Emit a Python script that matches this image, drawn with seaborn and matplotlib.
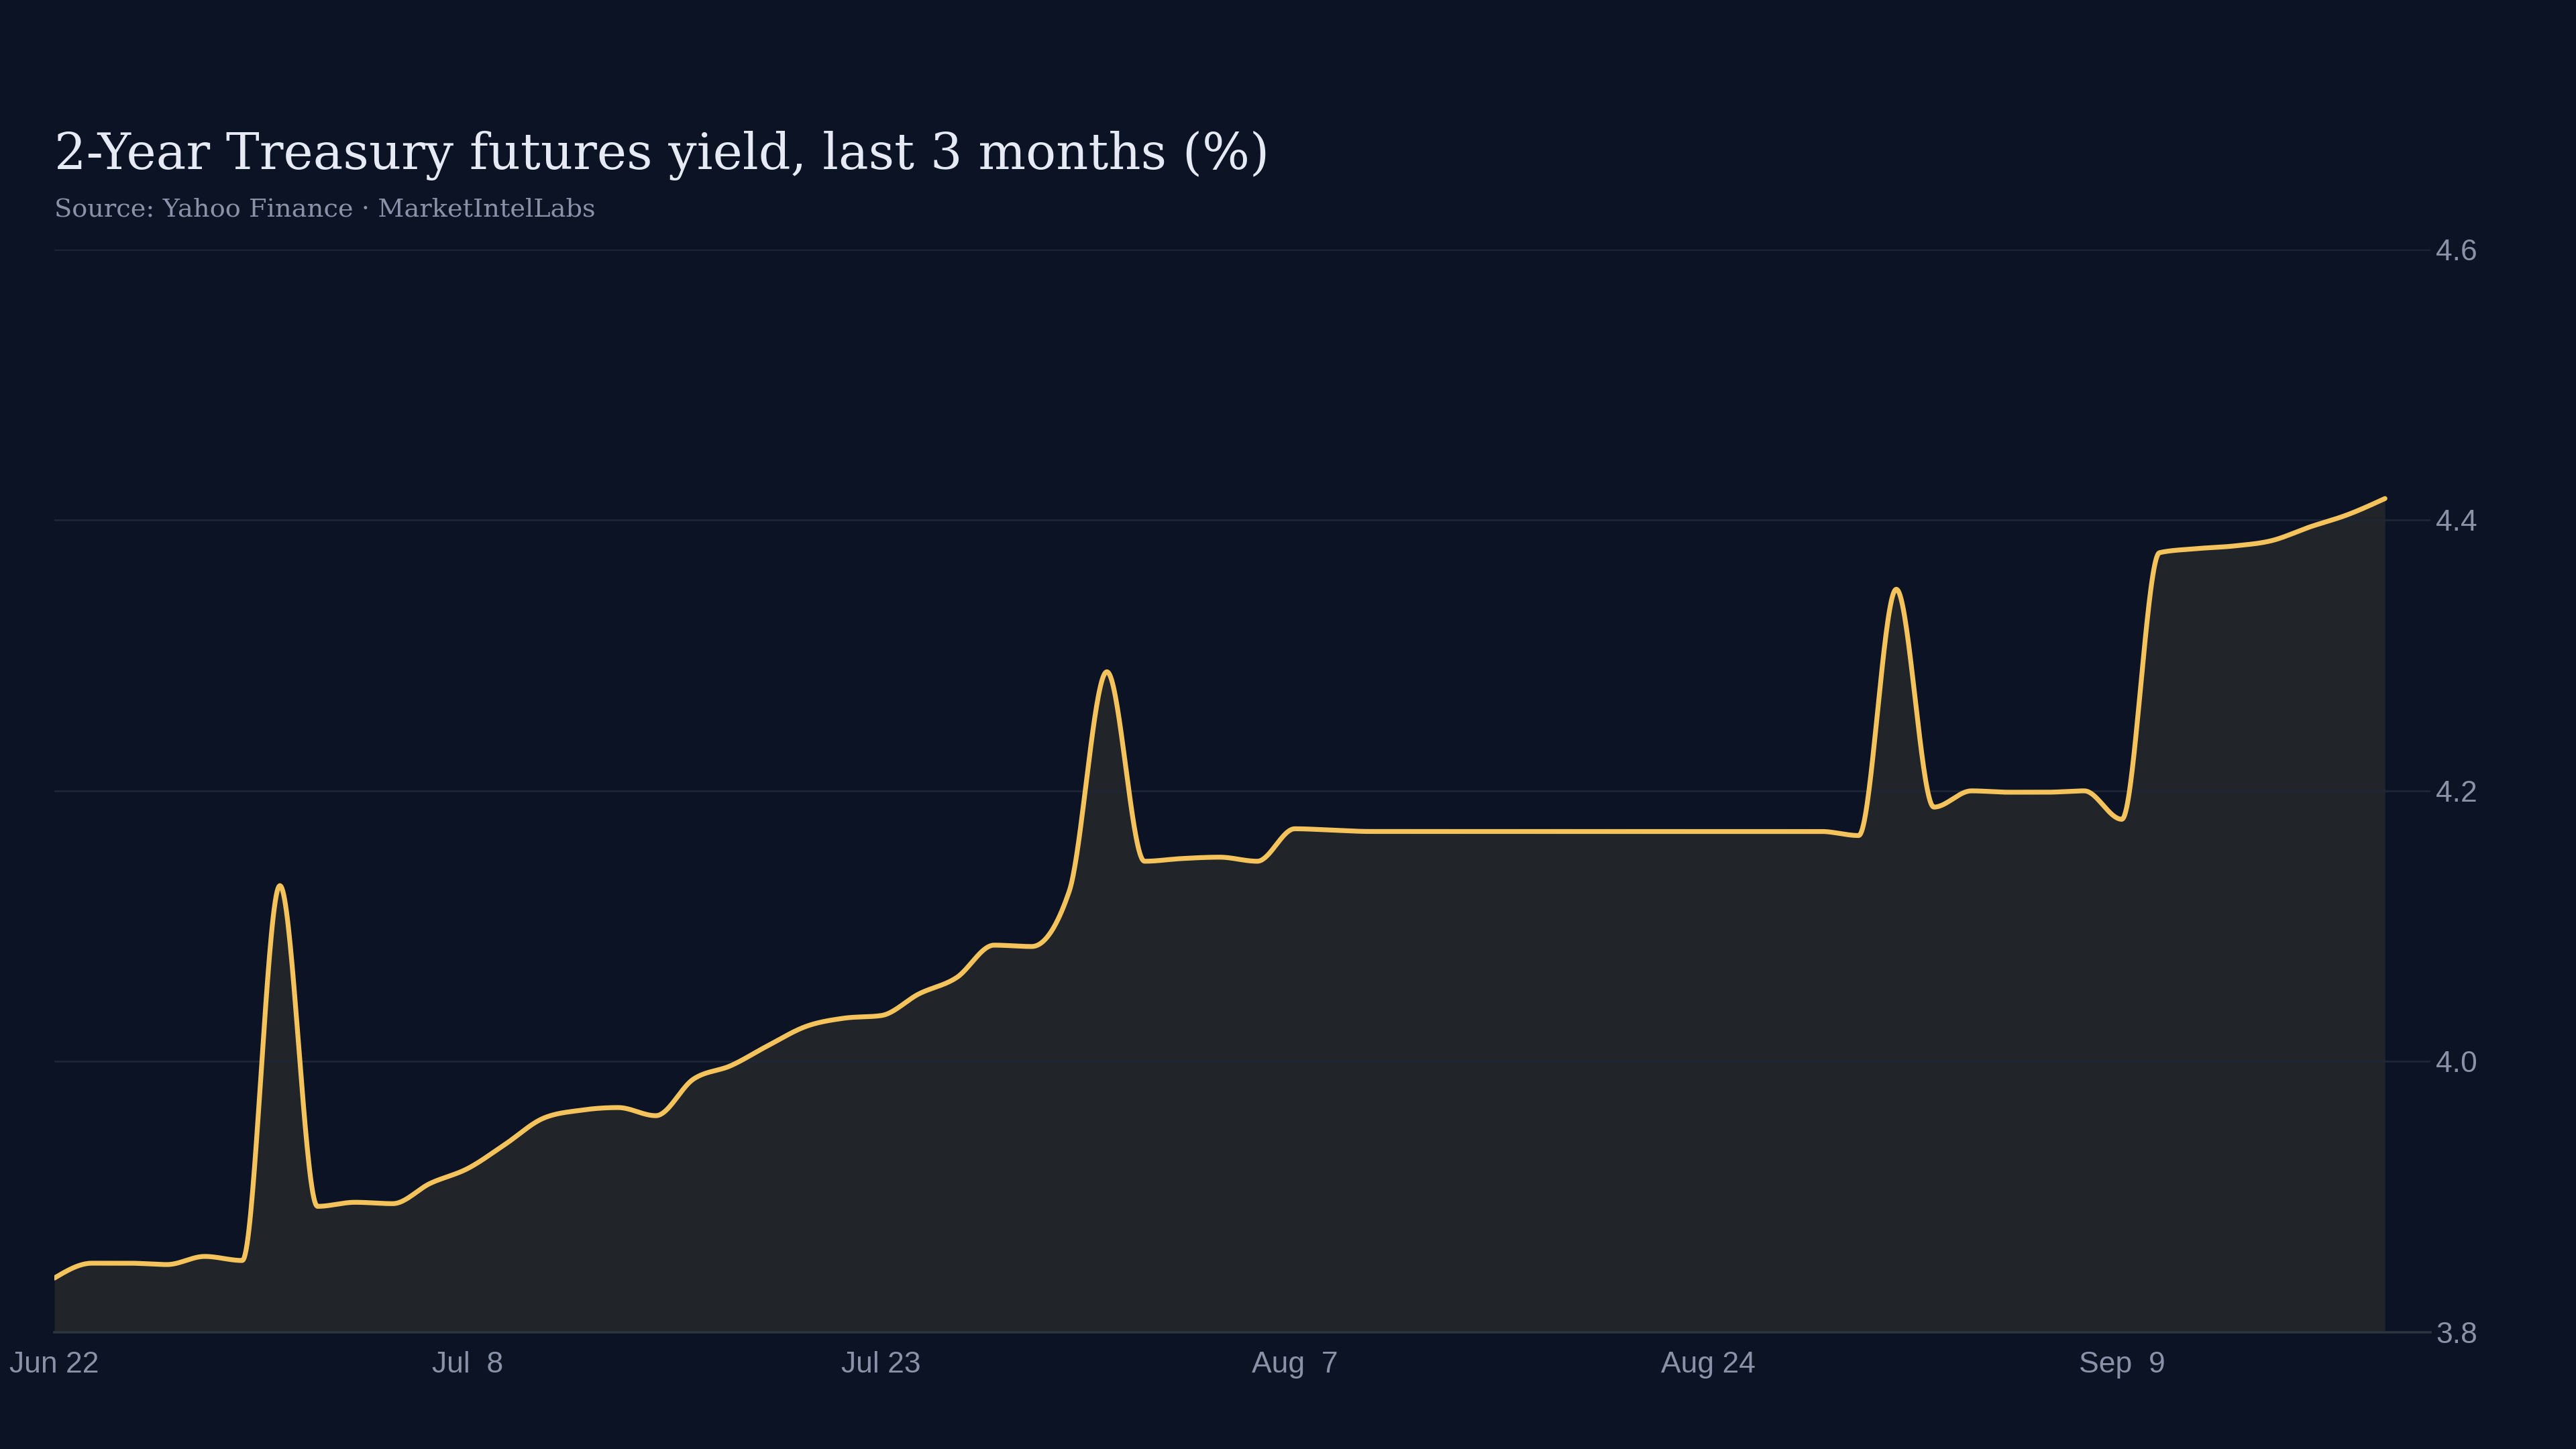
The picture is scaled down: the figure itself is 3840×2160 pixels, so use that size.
import numpy as np
import pandas as pd
import matplotlib
matplotlib.use('Agg')
import matplotlib.pyplot as plt
import seaborn as sns

# 2-year treasury futures yield, one value per trading session
yields = [3.840, 3.851, 3.851, 3.850, 3.856, 3.853, 4.130, 3.893, 3.896, 3.895,
          3.910, 3.921, 3.939, 3.958, 3.964, 3.966, 3.960, 3.987, 3.997, 4.012,
          4.026, 4.032, 4.034, 4.050, 4.062, 4.086, 4.085, 4.126, 4.288, 4.148,
          4.150, 4.151, 4.148, 4.172, 4.171, 4.170, 4.170, 4.170, 4.170, 4.170,
          4.170, 4.170, 4.170, 4.170, 4.170, 4.170, 4.170, 4.170, 4.167, 4.349,
          4.188, 4.200, 4.199, 4.199, 4.200, 4.179, 4.376, 4.379, 4.381, 4.385,
          4.395, 4.404, 4.416]
tick_pos = [0, 11, 22, 33, 44, 55]
tick_labels = ['Jun 22', 'Jul  8', 'Jul 23', 'Aug  7', 'Aug 24', 'Sep  9']
y_ticks = [3.8, 4.0, 4.2, 4.4, 4.6]

BG = '#0b1325'
FILL = '#212429'
LINE = '#f5c35b'
MUTED = '#8a92a8'


def monotone_curve(y, steps=40):
    # monotone cubic (same idea as d3.curveMonotoneX) on unit spacing
    y = np.asarray(y, dtype=float)
    s = np.diff(y)
    m = np.zeros_like(y)
    for i in range(1, len(y) - 1):
        s0, s1 = s[i - 1], s[i]
        p = (s0 + s1) / 2
        m[i] = (np.sign(s0) + np.sign(s1)) * min(abs(s0), abs(s1), 0.5 * abs(p))
    m[0] = (3 * s[0] - m[1]) / 2
    m[-1] = (3 * s[-1] - m[-2]) / 2
    xs, ys = [], []
    t = np.linspace(0, 1, steps, endpoint=False)
    h00 = 2 * t**3 - 3 * t**2 + 1
    h10 = t**3 - 2 * t**2 + t
    h01 = -2 * t**3 + 3 * t**2
    h11 = t**3 - t**2
    for i in range(len(y) - 1):
        xs.append(i + t)
        ys.append(h00 * y[i] + h10 * m[i] + h01 * y[i + 1] + h11 * m[i + 1])
    xs.append([len(y) - 1])
    ys.append([y[-1]])
    return np.concatenate(xs), np.concatenate(ys)


cx, cy = monotone_curve(yields)
curve = pd.DataFrame({'x': cx, 'y': cy})

sns.set_theme(style='dark')
plt.rcParams['font.family'] = ['Liberation Sans', 'DejaVu Sans']

fig = plt.figure(figsize=(19.2, 10.8), dpi=200, facecolor=BG)
ax = fig.add_axes([0.0211, 0.0806, 0.9224, 0.7472])
ax.set_facecolor(BG)

ax.fill_between(cx, 3.8, cy, color=FILL, lw=0, zorder=1)
sns.lineplot(data=curve, x='x', y='y', ax=ax, color=LINE, lw=2.6, zorder=3,
             sort=False, estimator=None)

ax.set_xlim(0, 63.21)
ax.set_ylim(3.8, 4.6)
ax.set_xticks(tick_pos)
ax.set_xticklabels(tick_labels)
ax.set_yticks(y_ticks)
ax.set_yticklabels([f'{v:.1f}' for v in y_ticks])
ax.yaxis.tick_right()
ax.tick_params(axis='both', length=0, labelsize=16, labelcolor=MUTED)
ax.tick_params(axis='x', pad=10)
ax.tick_params(axis='y', pad=3)
ax.set_xlabel('')
ax.set_ylabel('')

ax.set_axisbelow(False)
ax.grid(False)
ax.yaxis.grid(True, color='#1e2737', lw=1.0, zorder=2)
for side in ['top', 'left', 'right']:
    ax.spines[side].set_visible(False)
ax.spines['bottom'].set_color('#2c3441')
ax.spines['bottom'].set_linewidth(1.3)
ax.spines['bottom'].set_zorder(4)

fig.text(0.0211, 0.8835, '2-Year Treasury futures yield, last 3 months (%)',
         family='DejaVu Serif', fontsize=26.9, color='#e6eaf5', va='baseline')
fig.text(0.0211, 0.8505, 'Source: Yahoo Finance \u00b7 MarketIntelLabs',
         family='DejaVu Serif', fontsize=13.8, color=MUTED, va='baseline')

fig.savefig('out.png', dpi=200, facecolor=BG)
plt.close(fig)
